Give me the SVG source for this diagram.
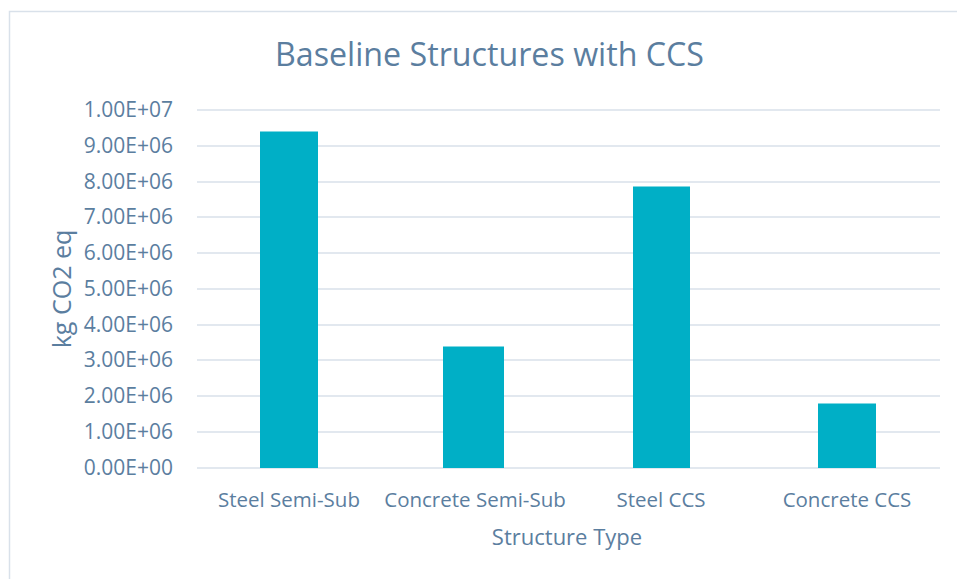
<svg xmlns="http://www.w3.org/2000/svg" width="957" height="579" viewBox="0 0 957 579">
<style>
.t{font-family:"Open Sans","Liberation Sans",sans-serif;fill:#5B7E9F}
.tick{font-size:21px;text-anchor:end}
.cat{font-size:20.5px;text-anchor:middle}
.grid line{stroke:#D9E1EA;stroke-width:1.5}
.bar{fill:#00AFC6}
</style>
<rect x="0" y="0" width="957" height="579" fill="#fff"/>
<path d="M9.5 579 V11.5 H957" fill="none" stroke="#D9E1EA" stroke-width="1.5"/>
<text class="t" x="489.5" y="65.5" font-size="32" text-anchor="middle" textLength="429" lengthAdjust="spacingAndGlyphs">Baseline Structures with CCS</text>
<g class="grid">
<line x1="197" y1="110" x2="940" y2="110"/>
<line x1="197" y1="146" x2="940" y2="146"/>
<line x1="197" y1="182" x2="940" y2="182"/>
<line x1="197" y1="217" x2="940" y2="217"/>
<line x1="197" y1="253" x2="940" y2="253"/>
<line x1="197" y1="289" x2="940" y2="289"/>
<line x1="197" y1="325" x2="940" y2="325"/>
<line x1="197" y1="360" x2="940" y2="360"/>
<line x1="197" y1="396" x2="940" y2="396"/>
<line x1="197" y1="432" x2="940" y2="432"/>
<line x1="197" y1="468" x2="940" y2="468"/>
</g>
<g class="t tick">
<text x="173" y="117">1.00E+07</text>
<text x="173" y="153">9.00E+06</text>
<text x="173" y="189">8.00E+06</text>
<text x="173" y="224">7.00E+06</text>
<text x="173" y="260">6.00E+06</text>
<text x="173" y="296">5.00E+06</text>
<text x="173" y="332">4.00E+06</text>
<text x="173" y="367">3.00E+06</text>
<text x="173" y="403">2.00E+06</text>
<text x="173" y="439">1.00E+06</text>
<text x="173" y="475">0.00E+00</text>
</g>
<g id="bar1"><rect class="bar" x="260" y="131.5" width="58" height="336.5"/></g>
<g id="bar2"><rect class="bar" x="443" y="346.5" width="61" height="121.5"/></g>
<g id="bar3"><rect class="bar" x="633" y="186.5" width="57" height="281.5"/></g>
<g id="bar4"><rect class="bar" x="818" y="403.5" width="58" height="64.5"/></g>
<g class="t cat">
<text x="289" y="507">Steel Semi-Sub</text>
<text x="475" y="507">Concrete Semi-Sub</text>
<text x="661" y="507">Steel CCS</text>
<text x="847" y="507">Concrete CCS</text>
</g>
<text class="t" x="567" y="545" font-size="22" text-anchor="middle">Structure Type</text>
<text class="t" transform="translate(71 289) rotate(-90)" font-size="25" text-anchor="middle">kg CO2 eq</text>
</svg>
